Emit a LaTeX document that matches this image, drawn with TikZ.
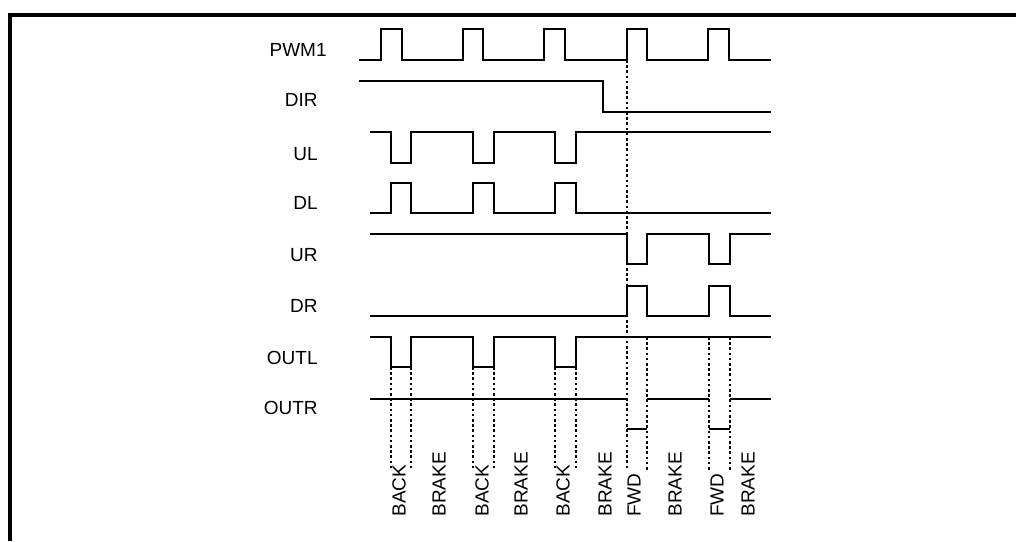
\documentclass[tikz,border=0pt]{standalone}
\usepackage{fontspec}
\setmainfont{Liberation Sans}
\usepackage{tikz}
\usetikzlibrary{positioning}

\begin{document}
\begin{tikzpicture}[x=0.5pt,y=-0.5pt,
        sig/.style={line width=1.4pt,line join=miter},
        frame/.style={line width=1.7pt},
        guide/.style={line width=1.2pt,dash pattern=on 1.3pt off 1.3pt},
        signame/.style={anchor=east,inner sep=0pt,font=\fontsize{9.5}{11}\selectfont},
        phase/.style={rotate=90,anchor=west,inner sep=0pt,font=\fontsize{9.5}{11}\selectfont}]
        \useasboundingbox (0,0) rectangle (1016,541);
        % frame
        \draw[frame] (1016,15) -- (10,15) -- (10,541);
        % signal names
        \node[signame] (pwm)  at (327,50)  {PWM1};
        \node[signame] (dir)  at (318,100) {DIR};
        \node[signame] (ul)   at (318,154) {UL};
        \node[signame] (dl)   at (318,203) {DL};
        \node[signame] (ur)   at (318,255) {UR};
        \node[signame] (dr)   at (318,306) {DR};
        \node[signame] (outl) at (318,358) {OUTL};
        \node[signame] (outr) at (318,408) {OUTR};
        % waveforms
        \draw[sig] (359,60) -- (381,60) -- (381,29) -- (402,29) -- (402,60)
          -- (463,60) -- (463,29) -- (483,29) -- (483,60)
          -- (544,60) -- (544,29) -- (565,29) -- (565,60)
          -- (627,60) -- (627,29) -- (647,29) -- (647,60)
          -- (708,60) -- (708,29) -- (729,29) -- (729,60) -- (771,60);
        \draw[sig] (359,81) -- (603,81) -- (603,112) -- (771,112);
        \draw[sig] (370,132) -- (391,132) -- (391,163) -- (411,163) -- (411,132)
          -- (473,132) -- (473,163) -- (494,163) -- (494,132)
          -- (555,132) -- (555,163) -- (576,163) -- (576,132) -- (771,132);
        \draw[sig] (370,213) -- (391,213) -- (391,183) -- (411,183) -- (411,213)
          -- (473,213) -- (473,183) -- (494,183) -- (494,213)
          -- (555,213) -- (555,183) -- (576,183) -- (576,213) -- (771,213);
        \draw[sig] (370,234) -- (627,234) -- (627,264) -- (647,264) -- (647,234)
          -- (709,234) -- (709,264) -- (730,264) -- (730,234) -- (771,234);
        \draw[sig] (370,316) -- (627,316) -- (627,286) -- (647,286) -- (647,316)
          -- (709,316) -- (709,286) -- (730,286) -- (730,316) -- (771,316);
        \draw[sig] (370,337) -- (391,337) -- (391,367) -- (411,367) -- (411,337)
          -- (473,337) -- (473,367) -- (494,367) -- (494,337)
          -- (555,337) -- (555,367) -- (576,367) -- (576,337) -- (771,337);
        \draw[sig] (370,399) -- (627,399) (627,429) -- (647,429)
          (647,399) -- (709,399) (709,429) -- (730,429) (730,399) -- (771,399);
        % phase guides
        \draw[guide] (627,60) -- (627,470);
        \draw[guide] (647,337) -- (647,470);
        \draw[guide] (709,337) -- (709,470);
        \draw[guide] (730,337) -- (730,470);
        \draw[guide] (391,367) -- (391,470);
        \draw[guide] (411,367) -- (411,470);
        \draw[guide] (473,367) -- (473,470);
        \draw[guide] (494,367) -- (494,470);
        \draw[guide] (555,367) -- (555,470);
        \draw[guide] (576,367) -- (576,470);
        % phase names
        \node[phase] (back1)  at (399,517) {BACK};
        \node[phase] (brake1) at (439,517) {BRAKE};
        \node[phase] (back2)  at (482,517) {BACK};
        \node[phase] (brake2) at (521,517) {BRAKE};
        \node[phase] (back3)  at (563,517) {BACK};
        \node[phase] (brake3) at (605,517) {BRAKE};
        \node[phase] (fwd1)   at (634,517) {FWD};
        \node[phase] (brake4) at (675,517) {BRAKE};
        \node[phase] (fwd2)   at (717,517) {FWD};
        \node[phase] (brake5) at (748,517) {BRAKE};
\end{tikzpicture}
\end{document}
